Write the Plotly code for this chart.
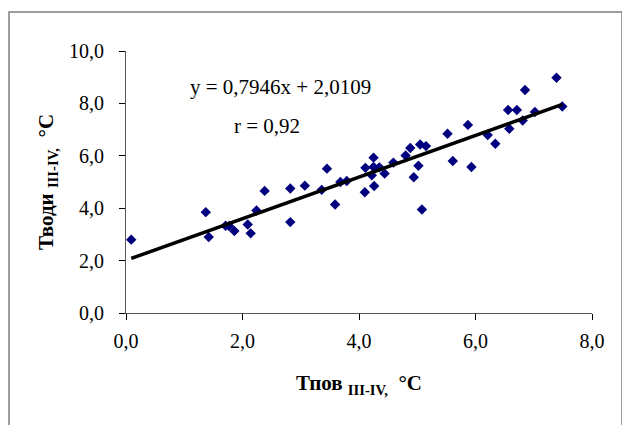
import plotly.graph_objects as go

# Data
t_pov = [0.09, 1.37, 1.42, 1.71, 1.77, 1.86, 2.09, 2.14, 2.24, 2.38,
         2.82, 2.82, 3.07, 3.36, 3.45, 3.59, 3.68, 3.79, 4.10, 4.11,
         4.22, 4.25, 4.25, 4.26, 4.35, 4.44, 4.59, 4.80, 4.88, 4.94,
         5.02, 5.05, 5.08, 5.15, 5.52, 5.61, 5.87, 5.93, 6.21, 6.34,
         6.56, 6.58, 6.71, 6.81, 6.85, 7.02, 7.39, 7.49]
t_vody = [2.80, 3.85, 2.90, 3.33, 3.32, 3.13, 3.38, 3.04, 3.91, 4.66,
          4.75, 3.47, 4.86, 4.70, 5.51, 4.14, 5.00, 5.04, 4.61, 5.54,
          5.26, 5.57, 5.93, 4.85, 5.56, 5.32, 5.74, 6.01, 6.30, 5.18,
          5.62, 6.43, 3.95, 6.37, 6.84, 5.80, 7.18, 5.57, 6.79, 6.46,
          7.75, 7.03, 7.75, 7.35, 8.51, 7.67, 8.98, 7.88]
slope = 0.7946
intercept = 2.0109
r_value = 0.92
x_ticks = [0, 2, 4, 6, 8]
y_ticks = [0, 2, 4, 6, 8, 10]

x_line = [min(t_pov), max(t_pov)]
y_line = [slope * v + intercept for v in x_line]

FONT = "Liberation Serif, Times New Roman, serif"

# page body adds an 8px offset; plot area in screenshot: x 126..592, y 51..313
L, T, PW, PH = 118, 43, 466, 262
W, H = 630, 425

def px_x(x):  # screenshot x -> paper
    return (x - 126) / PW

def px_y(y):  # screenshot y -> paper
    return (313 - y) / PH

fig = go.Figure()
fig.add_trace(go.Scatter(
    x=t_pov, y=t_vody, mode="markers",
    marker=dict(symbol="diamond", size=8, color="#00007f"),
    showlegend=False, hoverinfo="x+y"))
fig.add_trace(go.Scatter(
    x=x_line, y=y_line, mode="lines",
    line=dict(color="black", width=3.5),
    showlegend=False, hoverinfo="skip"))

fig.update_layout(
    width=W, height=H,
    margin=dict(l=L, r=W - L - PW, t=T, b=H - T - PH),
    paper_bgcolor="white", plot_bgcolor="white",
    separators=", ",
    font=dict(family=FONT, color="black", size=20),
    xaxis=dict(
        range=[0, 8], tickvals=x_ticks, tickformat=".1f",
        showgrid=False, zeroline=False,
        showline=True, linecolor="#555555", linewidth=1,
        ticks="outside", ticklen=6, tickcolor="black",
        ticklabelstandoff=4,
        tickfont=dict(family=FONT, size=20),
        title=dict(
            text="<b>Тпов </b><sub><b>III-IV,</b></sub>  <b>°C</b>",
            font=dict(family=FONT, size=21), standoff=24),
    ),
    yaxis=dict(
        range=[0, 10], tickvals=y_ticks, tickformat=".1f",
        showgrid=False, zeroline=False,
        showline=True, linecolor="#555555", linewidth=1,
        ticks="outside", ticklen=6, tickcolor="black",
        ticklabelstandoff=11,
        tickfont=dict(family=FONT, size=20),
        title=dict(
            text="<b>Тводи </b><sub><b>III-IV,</b></sub>  <b>°C</b>",
            font=dict(family=FONT, size=21), standoff=9),
    ),
    annotations=[
        dict(xref="paper", yref="paper",
             x=px_x(280), y=px_y(87),
             text="y = 0,7946x + 2,0109", showarrow=False,
             font=dict(family=FONT, size=21), xanchor="center", yanchor="middle"),
        dict(xref="paper", yref="paper",
             x=px_x(267), y=px_y(126),
             text="r = 0,92", showarrow=False,
             font=dict(family=FONT, size=21), xanchor="center", yanchor="middle"),
    ],
    shapes=[
        dict(type="rect", xref="paper", yref="paper",
             x0=px_x(9), x1=px_x(622),
             y0=-0.7, y1=px_y(12),
             line=dict(color="#7f7f7f", width=1.5), layer="below"),
    ],
)

fig.write_html("out.html")
